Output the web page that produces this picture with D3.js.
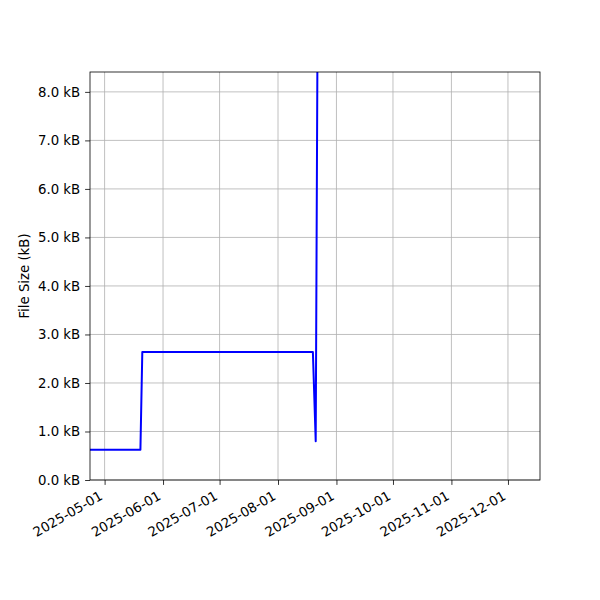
<!DOCTYPE html>
<html>
<head>
<meta charset="utf-8">
<script src="https://cdn.jsdelivr.net/npm/d3@7"></script>
<style>
  body { margin: 0; background: #fff; }
  text { font-family: "DejaVu Sans", sans-serif; }
</style>
</head>
<body>
<div id="chart"></div>
<script>
// file size over time (kB)
var dates = ["2025-04-20T00:00", "2025-05-20T00:00", "2025-05-21T00:00",
             "2025-08-19T12:00", "2025-08-21T00:00", "2025-08-22T00:00"];
var sizes = [0.625, 0.625, 2.64, 2.64, 0.80, 9.5];
var xTicks = ["2025-05-01", "2025-06-01", "2025-07-01", "2025-08-01",
              "2025-09-01", "2025-10-01", "2025-11-01", "2025-12-01"];
var yTicks = [0, 1, 2, 3, 4, 5, 6, 7, 8];
var xDomain = ["2025-04-23T06:00", "2025-12-18T00:00"];
var yDomain = [0, 8.41];

var W = 600, H = 600;
var m = {left: 90, right: 60, top: 72, bottom: 120};
var parse = d3.isoParse;
var fs = 13.3;

var svg = d3.select("#chart").append("svg")
  .attr("width", W).attr("height", H);

var x = d3.scaleTime()
  .domain(xDomain.map(function(d) { return parse(d); }))
  .range([m.left, W - m.right]);
var y = d3.scaleLinear().domain(yDomain).range([H - m.bottom, m.top]);

var data = dates.map(function(d, i) { return {t: parse(d), v: sizes[i]}; });

svg.append("clipPath").attr("id", "clip")
  .append("rect")
    .attr("x", m.left).attr("y", m.top)
    .attr("width", W - m.left - m.right)
    .attr("height", H - m.top - m.bottom);

// grid
var grid = svg.append("g").attr("stroke", "#b0b0b0").attr("stroke-width", 0.8);
grid.selectAll(".gx").data(xTicks).enter().append("line")
  .attr("x1", function(d) { return x(parse(d)); })
  .attr("x2", function(d) { return x(parse(d)); })
  .attr("y1", m.top).attr("y2", H - m.bottom);
grid.selectAll(".gy").data(yTicks).enter().append("line")
  .attr("y1", function(d) { return y(d); })
  .attr("y2", function(d) { return y(d); })
  .attr("x1", m.left).attr("x2", W - m.right);

// data line
svg.append("path").datum(data)
  .attr("clip-path", "url(#clip)")
  .attr("fill", "none")
  .attr("stroke", "#0000ff")
  .attr("stroke-width", 2)
  .attr("stroke-linejoin", "round")
  .attr("d", d3.line()
    .x(function(d) { return x(d.t); })
    .y(function(d) { return y(d.v); }));

// y axis
var yAxis = d3.axisLeft(y).tickValues(yTicks).tickSizeOuter(0).tickSize(4.9).tickPadding(4.9)
  .tickFormat(function(d) { return d3.format(".1f")(d) + " kB"; });
var gy = svg.append("g").attr("transform", "translate(" + m.left + ",0)").call(yAxis);
gy.select(".domain").remove();
gy.selectAll("line").attr("stroke", "#000").attr("stroke-width", 0.8);
gy.selectAll("text").attr("font-size", fs).attr("fill", "#000")
  .attr("font-family", "DejaVu Sans");

// x axis, labels rotated 30 deg and right aligned
var xAxis = d3.axisBottom(x).tickValues(xTicks.map(function(d) { return parse(d); }))
  .tickSizeOuter(0).tickSize(4.9).tickFormat(d3.timeFormat("%Y-%m-%d"));
var gx = svg.append("g").attr("transform", "translate(0," + (H - m.bottom) + ")").call(xAxis);
gx.select(".domain").remove();
gx.selectAll("line").attr("stroke", "#000").attr("stroke-width", 0.8);
gx.selectAll("text")
  .attr("font-size", fs).attr("fill", "#000").attr("font-family", "DejaVu Sans")
  .attr("text-anchor", "end")
  .attr("dy", null)
  .attr("y", null)
  .attr("transform", "translate(" + (-fs * 0.12) + "," + (9.8 + fs * 0.66) + ") rotate(-30)");

// frame
svg.append("rect")
  .attr("x", m.left).attr("y", m.top)
  .attr("width", W - m.left - m.right)
  .attr("height", H - m.top - m.bottom)
  .attr("fill", "none").attr("stroke", "#000").attr("stroke-width", 0.8);

// y label
svg.append("text")
  .attr("transform", "translate(29," + ((m.top + H - m.bottom) / 2) + ") rotate(-90)")
  .attr("text-anchor", "middle")
  .attr("font-size", fs)
  .text("File Size (kB)");
</script>
</body>
</html>
